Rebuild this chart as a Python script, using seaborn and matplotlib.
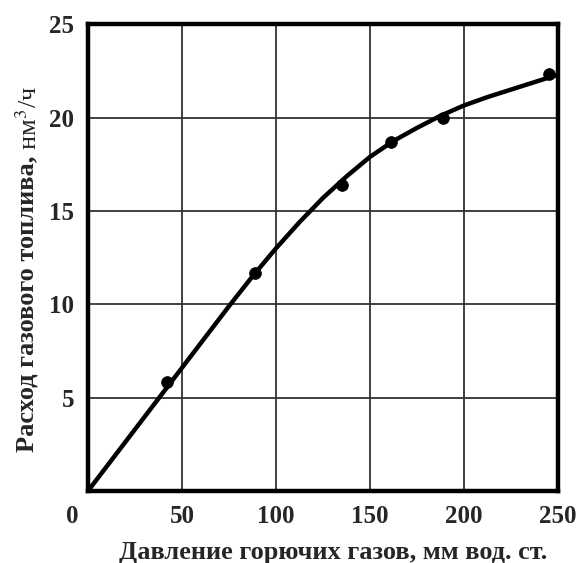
import matplotlib
matplotlib.use("Agg")
import matplotlib.pyplot as plt
import matplotlib.transforms as mtransforms
import seaborn as sns
import pandas as pd

# measured points
pressure = [42, 89, 135, 161, 189, 245]
flow = [5.85, 11.7, 16.4, 18.7, 19.95, 22.35]

# smooth curve
curve_x = [0, 12.5, 25, 37.5, 50, 62.5, 75, 87.5, 100, 112.5, 125, 137.5, 150, 162.5, 175, 187.5, 200, 212.5, 225, 237.5, 250]
curve_y = [0, 1.65, 3.3, 4.95, 6.6, 8.25, 9.9, 11.5, 13.0, 14.4, 15.7, 16.85, 17.9, 18.75, 19.45, 20.1, 20.65, 21.1, 21.5, 21.9, 22.3]

xticks = [0, 50, 100, 150, 200, 250]
yticks = [5, 10, 15, 20, 25]

xlabel = "Давление горючих газов, мм вод. ст."
ylabel_main = "Расход газового топлива,"
ylabel_unit = " нм$^3$/ч"

sns.set_style("white")
plt.rcParams['font.family'] = ['Liberation Serif', 'DejaVu Serif']
plt.rcParams['mathtext.fontset'] = 'stix'

W, H = 579, 563
fig = plt.figure(figsize=(W / 100, H / 100), dpi=100)
ax = fig.add_axes([0.152, 0.128, 0.812, 0.829])

df_curve = pd.DataFrame({"x": curve_x, "y": curve_y})
df_pts = pd.DataFrame({"x": pressure, "y": flow})

sns.lineplot(data=df_curve, x="x", y="y", ax=ax, color="black", linewidth=3.2, zorder=3)
sns.scatterplot(data=df_pts, x="x", y="y", ax=ax, color="black", s=70, edgecolor="black", zorder=4)

ax.set_xlim(0, 250)
ax.set_ylim(0, 25)
ax.set_xticks(xticks)
ax.set_yticks(yticks)
ax.grid(True, color="#333333", linewidth=1.3)
for s in ax.spines.values():
    s.set_linewidth(3.2)
    s.set_color("black")
ax.tick_params(length=0, labelsize=18, pad=10)
for lab in ax.get_xticklabels() + ax.get_yticklabels():
    lab.set_fontweight("bold")
first = ax.get_xticklabels()[0]
first.set_transform(first.get_transform() + mtransforms.ScaledTranslation(-16/100, 0, fig.dpi_scale_trans))

ax.set_xlabel("")
ax.set_ylabel("")

fig.text(333 / W, 1 - 552 / H, xlabel, fontsize=19, fontweight="bold", ha="center", va="center")

t_main = fig.text(27 / W, 1 - 452 / H, ylabel_main, fontsize=19, fontweight="bold",
                  rotation=90, ha="center", va="bottom")
fig.canvas.draw()
bb = t_main.get_window_extent()
fig.text(29 / W, bb.y1 / H, ylabel_unit, fontsize=19, fontweight="normal",
         rotation=90, ha="center", va="bottom")

fig.savefig("out.png", dpi=100, facecolor="white")
